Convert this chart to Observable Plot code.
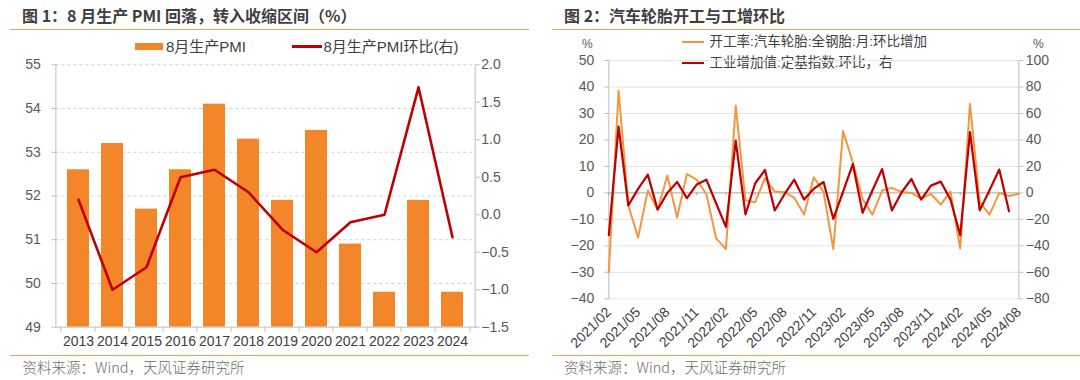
<!DOCTYPE html>
<html><head><meta charset="utf-8">
<script src="https://cdn.jsdelivr.net/npm/d3@7"></script>
<script src="https://cdn.jsdelivr.net/npm/@observablehq/plot@0.6"></script>
<style>
body{margin:0;background:#fff;}
#root{position:relative;width:1080px;height:380px;overflow:hidden;background:#fff;font-family:"Liberation Sans",Arial,"Noto Sans CJK SC",sans-serif;}
.title{position:absolute;top:4px;height:22px;line-height:22px;font-family:"Noto Sans CJK SC",sans-serif;font-weight:bold;font-size:16px;color:#404040;white-space:nowrap;}
.rule{position:absolute;height:0;border-top:1.5px solid #F2A154;}
.source{position:absolute;top:357px;height:20px;line-height:20px;font-size:14.5px;color:#6b6b6b;white-space:nowrap;font-family:"Noto Sans CJK SC",sans-serif;font-weight:300;}
.leg{position:absolute;white-space:nowrap;color:#404040;transform:translateY(-50%);line-height:1.2;}
.sw{position:absolute;}
.plot{position:absolute;}
</style>
</head><body>
<div id="root">
  <div class="title" style="left:22px">图 1：8 月生产 PMI 回落，转入收缩区间（%）</div>
  <div class="rule" style="left:10px;width:519px;top:29px"></div>
  <div class="title" style="left:564px">图 2：汽车轮胎开工与工增环比</div>
  <div class="rule" style="left:552px;width:528px;top:29px"></div>

  <div class="sw" style="left:135px;top:42.7px;width:27.6px;height:7.6px;background:#F4862A"></div>
  <div class="leg" id="legA" style="left:166px;top:46.5px;font-size:15px"></div>
  <div class="sw" style="left:292px;top:45.2px;width:30px;height:2.6px;background:#C00000"></div>
  <div class="leg" id="legB" style="left:323.5px;top:46.5px;font-size:15px"></div>

  <div class="leg" style="left:582px;top:44px;font-size:12px;color:#595959">%</div>
  <div class="leg" style="left:1033px;top:44px;font-size:12px;color:#595959">%</div>
  <div class="sw" style="left:682px;top:41px;width:22px;height:2.2px;background:#F5963F"></div>
  <div class="leg" id="legC" style="left:709.5px;top:42px;font-size:13.5px"></div>
  <div class="sw" style="left:682px;top:61.8px;width:22px;height:2.6px;background:#C00000"></div>
  <div class="leg" id="legD" style="left:709.5px;top:63px;font-size:13.5px"></div>

  <div class="plot" id="left" style="left:0;top:54px"></div>
  <div class="plot" id="right" style="left:540px;top:50px"></div>

  <div class="rule" style="left:10px;width:519px;top:355px"></div>
  <div class="rule" style="left:552px;width:528px;top:355px"></div>
  <div class="source" style="left:22.5px">资料来源：Wind，天风证券研究所</div>
  <div class="source" style="left:564px">资料来源：Wind，天风证券研究所</div>
</div>
<script>
// ---------- Chart 1 data ----------
const years = ["2013","2014","2015","2016","2017","2018","2019","2020","2021","2022","2023","2024"];
const pmiAug = [52.6,53.2,51.7,52.6,54.1,53.3,51.9,53.5,50.9,49.8,51.9,49.8];
const pmiMoM = [0.2,-1.0,-0.7,0.5,0.6,0.3,-0.2,-0.5,-0.1,0.0,1.7,-0.3];
const pmiTicksLeft = [49,50,51,52,53,54,55];
const pmiTicksRight = [-1.5,-1.0,-0.5,0.0,0.5,1.0,1.5,2.0];
const seriesNames1 = ["8月生产PMI","8月生产PMI环比(右)"];

// ---------- Chart 2 data ----------
const months = ["2021/02","2021/03","2021/04","2021/05","2021/06","2021/07","2021/08","2021/09","2021/10","2021/11","2021/12",
"2022/01","2022/02","2022/03","2022/04","2022/05","2022/06","2022/07","2022/08","2022/09","2022/10","2022/11","2022/12",
"2023/01","2023/02","2023/03","2023/04","2023/05","2023/06","2023/07","2023/08","2023/09","2023/10","2023/11","2023/12",
"2024/01","2024/02","2024/03","2024/04","2024/05","2024/06","2024/07","2024/08"];
const tyreRate = [-30,38.6,-4.7,-16.9,0.9,-6.3,6.6,-9.3,7.1,5,-0.5,
-17.2,-21.2,33,-2.8,-3.5,5.6,0.5,0.2,-1.8,-8.2,5.9,0.3,
-21.2,23.4,11.5,-2.3,-8.2,0.9,1.9,0.3,0,-2.2,-0.4,-4.4,
0.5,-21,33.6,-3.5,-8.2,0,-1.2,-0.3];
const ivaMoM = [-32,50,-9.4,3,13.8,-12.7,0,8.2,-4,6.3,10,
-8,-25.7,39.5,-16.3,7.3,17.3,-13.3,-1,10,-5,3.2,8.2,
-19.6,1,21.8,-15,1.8,18,-13.3,0.5,10.5,-5,5.5,8.5,
-5,-32,46,-13.2,2,17.6,-13.8,null];
const monthTicks = ["2021/02","2021/05","2021/08","2021/11","2022/02","2022/05","2022/08","2022/11","2023/02","2023/05","2023/08","2023/11","2024/02","2024/05","2024/08"];
const ticksLeft2 = [-40,-30,-20,-10,0,10,20,30,40,50];
const ticksRight2 = [-80,-60,-40,-20,0,20,40,60,80,100];
const seriesNames2 = ["开工率:汽车轮胎:全钢胎:月:环比增加","工业增加值:定基指数:环比，右"];

document.getElementById("legA").textContent = seriesNames1[0];
document.getElementById("legB").textContent = seriesNames1[1];
document.getElementById("legC").textContent = seriesNames2[0];
document.getElementById("legD").textContent = seriesNames2[1];

const minus = v => (v < 0 ? "\u2212" : "") + Math.abs(v);
const font = "'Liberation Sans', Arial, 'Noto Sans CJK SC', sans-serif";

// ---------- Chart 1 ----------
const W1 = 540, H1 = 302, mL1 = 55.4, mR1 = 65.3, mT1 = 10.3, mB1 = 29.3;
const toL = r => 49 + (r + 1.5) * 6 / 3.5;
const fromL = v => (v - 49) * 3.5 / 6 - 1.5;
const step1 = (W1 - mL1 - mR1) / years.length;
const d1 = years.map((y, i) => ({year: y, pmi: pmiAug[i], mom: pmiMoM[i]}));
const tickLen = 5 / ((H1 - mT1 - mB1) / 6);

const chart1 = Plot.plot({
  width: W1, height: H1, marginLeft: mL1, marginRight: mR1, marginTop: mT1, marginBottom: mB1,
  style: {fontFamily: font, fontSize: "14px", color: "#595959", background: "transparent", overflow: "visible"},
  x: {type: "band", domain: years, paddingInner: 0.356, paddingOuter: 0.178},
  y: {domain: [49, 55]},
  marks: [
    Plot.ruleY(pmiTicksLeft.slice(1), {y: d => d, stroke: "#d0d0d0", strokeDasharray: "3,3"}),
    Plot.barY(d1, {x: "year", y1: 49, y2: "pmi", fill: "#F4862A"}),
    Plot.line(d1, {x: "year", y: d => toL(d.mom), stroke: "#C00000", strokeWidth: 2.6}),
    Plot.frame({anchor: "left", stroke: "#bfbfbf"}),
    Plot.frame({anchor: "right", stroke: "#bfbfbf"}),
    Plot.frame({anchor: "bottom", stroke: "#bfbfbf"}),
    Plot.ruleX(years, {x: d => d, dx: -step1 / 2, y1: 49, y2: 49 - tickLen, stroke: "#bfbfbf"}),
    Plot.ruleX([years[years.length - 1]], {x: d => d, dx: step1 / 2, y1: 49, y2: 49 - tickLen, stroke: "#bfbfbf"}),
    Plot.axisY(pmiTicksLeft, {anchor: "left", tickSize: 4, tickPadding: 11, stroke: "#bfbfbf", fill: "#595959", label: null, tickFormat: d => String(d)}),
    Plot.axisY(pmiTicksRight.map(toL), {anchor: "right", tickSize: 4, tickPadding: 2, stroke: "#bfbfbf", fill: "#595959", label: null,
      tickFormat: v => { const r = Math.round(fromL(v) * 10) / 10; return (r < 0 ? "\u2212" : "") + Math.abs(r).toFixed(1); }}),
    Plot.axisX(years, {anchor: "bottom", tickSize: 0, tickPadding: 9, fill: "#404040", label: null})
  ]
});
document.getElementById("left").appendChild(chart1);

// ---------- Chart 2 ----------
const W2 = 540, H2 = 306, mL2 = 68.3, mR2 = 61.7, mT2 = 10, mB2 = 57.7;
const d2 = months.map((m, i) => ({month: m, tyre: tyreRate[i], iva: ivaMoM[i]}));
const zeroTick = 3 / ((H2 - mT2 - mB2) / 90);

const chart2 = Plot.plot({
  width: W2, height: H2, marginLeft: mL2, marginRight: mR2, marginTop: mT2, marginBottom: mB2,
  style: {fontFamily: font, fontSize: "14px", color: "#595959", background: "transparent", overflow: "visible"},
  x: {type: "point", domain: months, padding: 0},
  y: {domain: [-40, 50]},
  marks: [
    Plot.ruleY(ticksLeft2.filter(v => v !== 0), {y: d => d, stroke: "#e4e4e4"}),
    Plot.frame({anchor: "left", stroke: "#bfbfbf"}),
    Plot.frame({anchor: "right", stroke: "#bfbfbf"}),
    Plot.ruleY([0], {y: d => d, stroke: "#a6a6a6"}),
    Plot.ruleX(monthTicks, {x: d => d, y1: 0, y2: -zeroTick, stroke: "#a6a6a6"}),
    Plot.line(d2, {x: "month", y: "tyre", stroke: "#F5963F", strokeWidth: 2}),
    Plot.line(d2.filter(d => d.iva != null), {x: "month", y: d => d.iva / 2, stroke: "#C00000", strokeWidth: 2.2}),
    Plot.axisY(ticksLeft2, {anchor: "left", tickSize: 4, tickPadding: 10.5, stroke: "#bfbfbf", fill: "#595959", label: null, tickFormat: minus}),
    Plot.axisY(ticksRight2.map(v => v / 2), {anchor: "right", tickSize: 4, tickPadding: 3, stroke: "#bfbfbf", fill: "#595959", label: null, tickFormat: v => minus(v * 2)}),
    Plot.axisX(monthTicks, {anchor: "bottom", tickSize: 0, tickPadding: 11, tickRotate: -45, fontSize: 14, fill: "#404040", label: null})
  ]
});
document.getElementById("right").appendChild(chart2);
</script>
</body></html>
